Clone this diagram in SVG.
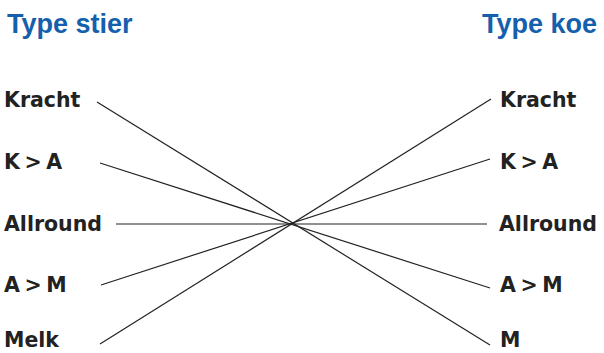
<svg xmlns="http://www.w3.org/2000/svg" width="604" height="353" viewBox="0 0 604 353">
<style>
.title{font-family:"Liberation Sans",Arial,sans-serif;font-weight:bold;font-size:27px;fill:#1560ad}
.lbl{font-family:"DejaVu Sans",sans-serif;font-weight:bold;font-size:20.5px;fill:#222;word-spacing:-2.5px}
.ln{stroke:#222;stroke-width:1.2;fill:none}
</style>
<rect width="604" height="353" fill="#fff"/>
<g id="title-left"><text class="title" x="7" y="33">Type stier</text></g>
<g id="title-right"><text class="title" x="597" y="33" text-anchor="end">Type koe</text></g>
<g id="left-kracht"><text class="lbl" x="4" y="107">Kracht</text></g>
<g id="left-ka"><text class="lbl" x="4" y="169">K &gt; A</text></g>
<g id="left-allround"><text class="lbl" x="4" y="231">Allround</text></g>
<g id="left-am"><text class="lbl" x="4" y="292">A &gt; M</text></g>
<g id="left-melk"><text class="lbl" x="4" y="347">Melk</text></g>
<g id="right-kracht"><text class="lbl" x="500" y="107">Kracht</text></g>
<g id="right-ka"><text class="lbl" x="500" y="169">K &gt; A</text></g>
<g id="right-allround"><text class="lbl" x="499" y="231">Allround</text></g>
<g id="right-am"><text class="lbl" x="500" y="292">A &gt; M</text></g>
<g id="right-m"><text class="lbl" x="500" y="347">M</text></g>
<g id="connectors">
<line class="ln" x1="97" y1="102" x2="490" y2="345"/>
<line class="ln" x1="100" y1="163" x2="490" y2="288"/>
<line class="ln" x1="116" y1="224" x2="487" y2="224"/>
<line class="ln" x1="101" y1="285" x2="490" y2="159"/>
<line class="ln" x1="100" y1="344" x2="491" y2="99"/>
</g>
</svg>
